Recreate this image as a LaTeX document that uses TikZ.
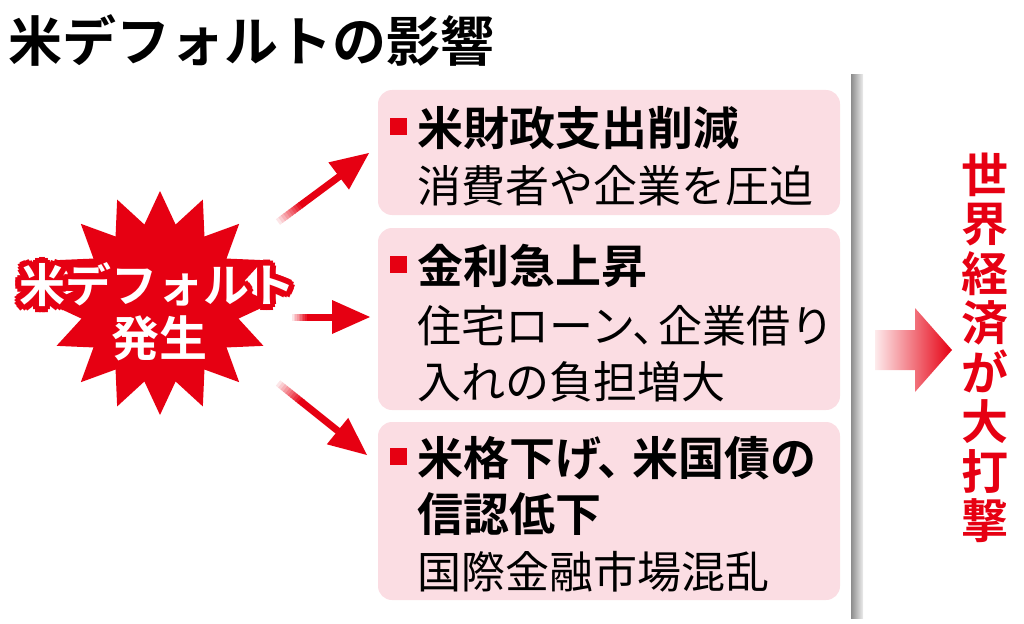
\documentclass[tikz,border=0pt]{standalone}
\usetikzlibrary{calc}
\usepackage{fontspec}
\newfontfamily\jp{Noto Sans CJK JP}
\newfontfamily\jpb{Noto Sans CJK JP Bold}
\definecolor{rd}{HTML}{E60012}
\definecolor{pk}{HTML}{FBDDE3}
\begin{document}
\begin{tikzpicture}[x=1pt,y=-1pt,
  box/.style={fill=pk,rounded corners=14pt},
  sq/.style={fill=rd,minimum size=17pt,inner sep=0pt},
  hd/.style={anchor=west,inner sep=0pt,font=\jpb\fontsize{46}{50}\selectfont},
  bd/.style={anchor=west,inner sep=0pt,font=\jp\fontsize{44}{48}\selectfont},
  bt/.style={inner sep=0pt,font=\jpb\fontsize{46}{50}\selectfont},
  arr/.style={rd,line width=7pt}]
\useasboundingbox (0,0) rectangle (1024,623);
\node[anchor=west,inner sep=0pt,font=\jpb\fontsize{54}{58}\selectfont] (title) at (8,40) {米デフォルトの影響};
% boxes
\fill[box] (378,90) rectangle (840,215);
\fill[box] (378,228) rectangle (840,410);
\fill[box] (378,422) rectangle (840,600);
\node[sq] (s1) at (398,126) {};
\node[hd] (h1) at (417,128) {米財政支出削減};
\node[bd] (b1) at (417,186) {消費者や企業を圧迫};
\node[sq] (s2) at (398,264) {};
\node[hd] (h2) at (417,266) {金利急上昇};
\node[bd] (b2) at (417,326) {住宅ローン、\hspace{-18pt}企業借り};
\node[bd] (b3) at (417,382) {入れの負担増大};
\node[sq] (s3) at (398,456) {};
\node[hd] (h3) at (417,458) {米格下げ、\hspace{-12pt}米国債の};
\node[hd] (h4) at (417,514) {信認低下};
\node[bd] (b4) at (417,572) {国際金融市場混乱};
% gray line
\shade[left color=gray!90,right color=gray!15] (851,75) rectangle (863,618);
% starburst
\fill[rd] (160,191) \foreach \i in {1,...,31}{ -- ({160+(mod(\i,2)==0?112:80)*sin(\i*11.25)},{303-(mod(\i,2)==0?112:80)*cos(\i*11.25)}) } -- cycle;
\foreach \a in {0,30,...,330}{
  \node[rd,bt] at ({157+6*cos(\a)},{285+6*sin(\a)}) {米デフォルト};}
\node[white,bt] (burst) at (157,285) {米デフォルト};
\node[white,bt,font=\jpb\fontsize{48}{52}\selectfont] (gen) at (159,338) {発生};
% arrows
\coordinate (a1s) at (278,222); \coordinate (a1e) at (340,176);
\coordinate (a2s) at (292,317); \coordinate (a2e) at (333,317);
\coordinate (a3s) at (278,383); \coordinate (a3e) at (338,431);
\foreach \s/\e in {a1s/a1e, a2s/a2e, a3s/a3e}{
  \foreach \k in {0,...,9}{
    \pgfmathsetmacro\c{10+\k*10}
    \pgfmathsetmacro\pa{\k*0.04}
    \pgfmathsetmacro\pb{\k*0.04+0.05}
    \draw[rd!\c,line width=7pt] ($(\s)!\pa!(\e)$) -- ($(\s)!\pb!(\e)$);}
  \draw[arr] ($(\s)!0.4!(\e)$) -- (\e);
}
\fill[rd] (369,153) -- (349,189.6) -- (328.4,162.4) -- cycle;
\fill[rd] (370,317) -- (332,300) -- (332,334) -- cycle;
\fill[rd] (367,455) -- (326.8,444.3) -- (348.2,417.9) -- cycle;
% big arrow
\shade[left color=rd!8,right color=rd] (875,330) -- (915,330) -- (915,308) -- (952,350) -- (915,392) -- (915,370) -- (875,370) -- cycle;
% vertical text
\node[rd,font=\jpb\fontsize{47}{49.5}\selectfont,align=center,inner sep=0pt] (res) at (985,348) {世\\界\\経\\済\\が\\大\\打\\撃};
\end{tikzpicture}
\end{document}
